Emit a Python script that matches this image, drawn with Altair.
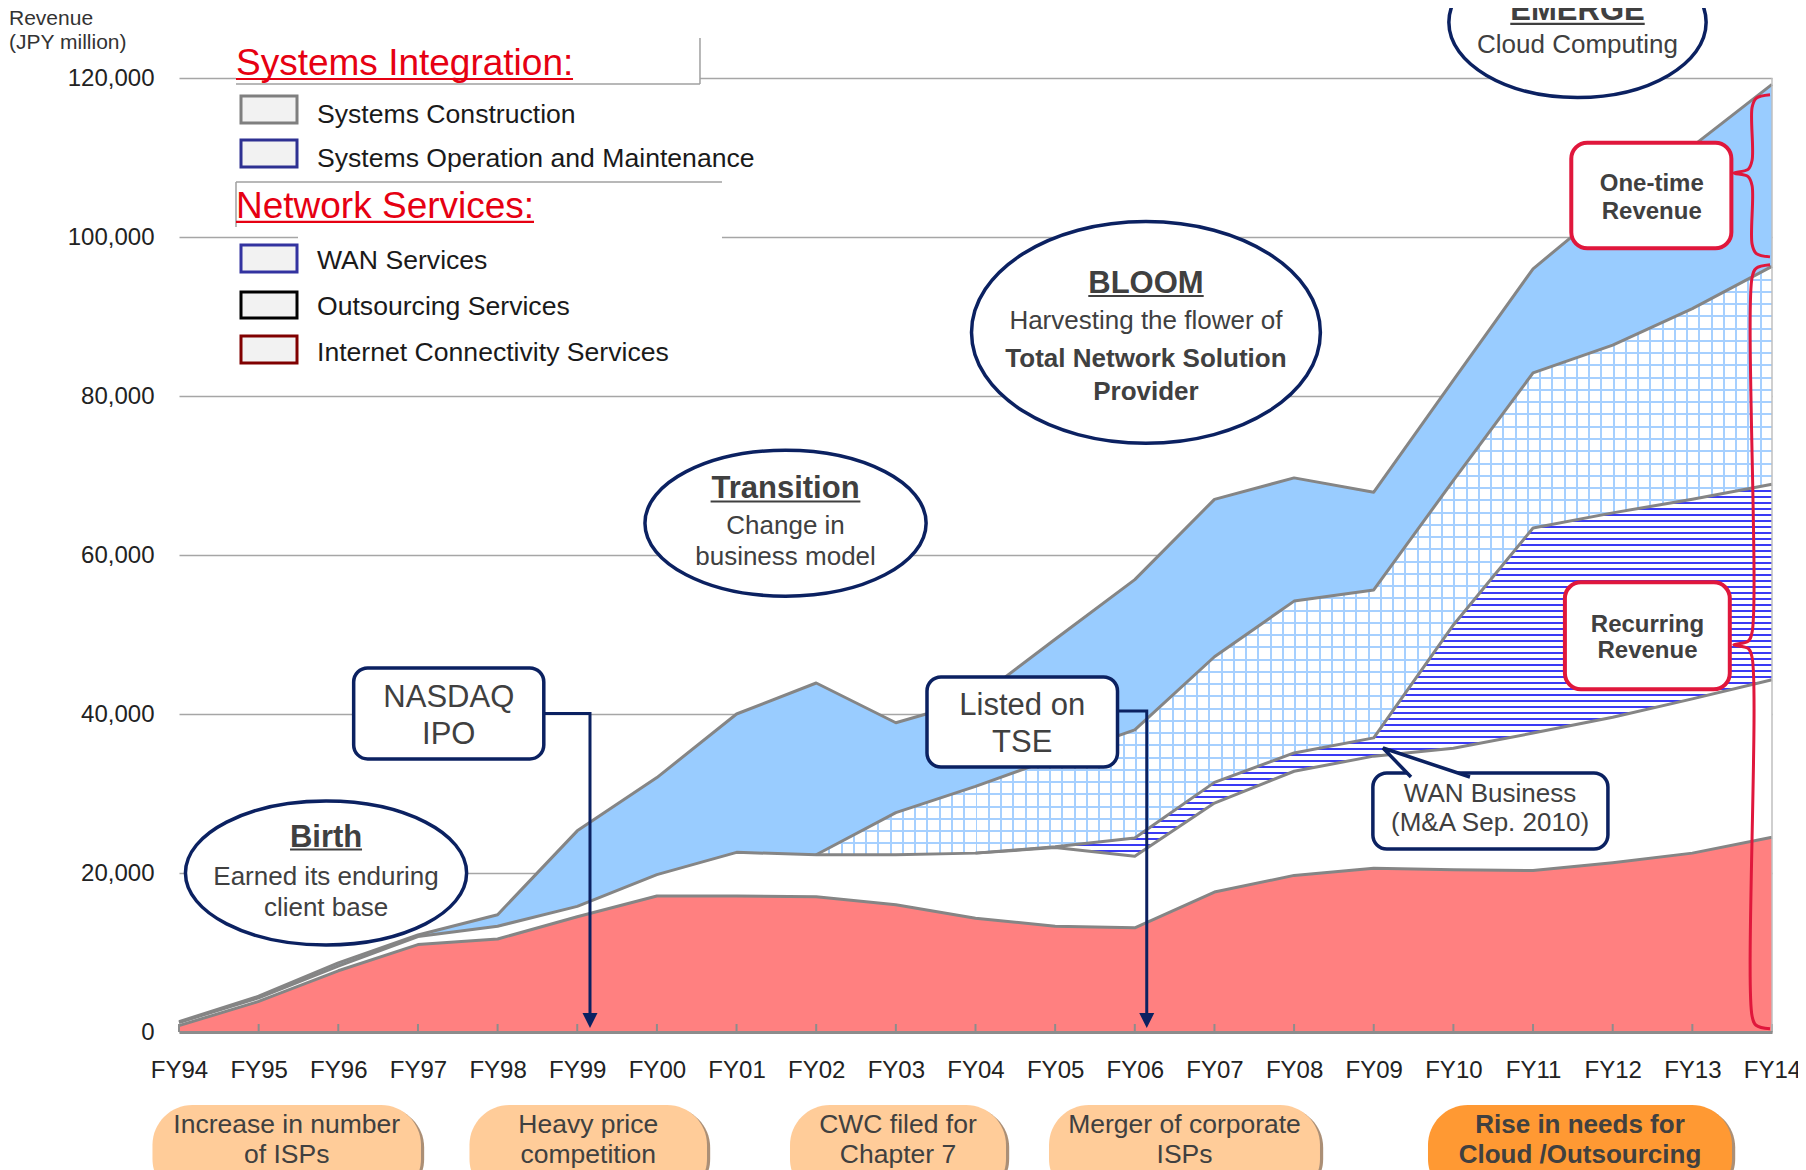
import altair as alt
import pandas as pd

FONT = "Liberation Sans"
NAVY = "#0B2161"
CRIMSON = "#E0173C"
TXT = "#404040"

# ---------------- data (Revenue, JPY million) ----------------
FY = ["FY94", "FY95", "FY96", "FY97", "FY98", "FY99", "FY00", "FY01", "FY02", "FY03", "FY04",
      "FY05", "FY06", "FY07", "FY08", "FY09", "FY10", "FY11", "FY12", "FY13", "FY14"]
internet_connectivity = [800, 3850, 7700, 11000, 11700, 14500, 17100, 17100, 17000, 16000, 14300,
                         13300, 13100, 17600, 19700, 20600, 20400, 20300, 21300, 22500, 24500]
outsourcing_services = [400, 450, 600, 1000, 1600, 1300, 2700, 5500, 5300, 6300, 8200,
                        9900, 9000, 11200, 13100, 14100, 15300, 17300, 18300, 19400, 19800]
wan_services = [0, 0, 0, 0, 0, 0, 0, 0, 0, 0, 0,
                100, 2300, 2600, 2300, 2300, 15500, 25800, 25700, 25100, 24600]
systems_om = [0, 0, 0, 0, 0, 0, 0, 0, 0, 5300, 8400,
              11200, 13600, 15800, 19100, 18600, 18200, 19500, 21100, 24000, 27400]
systems_construction = [100, 200, 400, 200, 1450, 9500, 12200, 17400, 21600, 11300, 10900,
                        14900, 18900, 19800, 15500, 12300, 12600, 13100, 17900, 20400, 22900]
Y_TICKS = [0, 20000, 40000, 60000, 80000, 100000, 120000]

W, H = 1593, 954
YMAX = 120000
PX = H / YMAX               # pixels per JPY million
XPX = W / (len(FY) - 1)     # pixels per fiscal year

df = pd.DataFrame({"i": list(range(len(FY))), "fy": FY, "ic": internet_connectivity,
                   "os": outsourcing_services, "wan": wan_services, "som": systems_om,
                   "sc": systems_construction})
df["b0"] = 0
df["b1"] = df["ic"]
df["b2"] = df["b1"] + df["os"]
df["b3"] = df["b2"] + df["wan"]
df["b4"] = df["b3"] + df["som"]
df["b5"] = df["b4"] + df["sc"]
df["tk"] = 8 / PX


def first_start(series):
    for k, v in enumerate(series):
        if v > 0:
            return max(k - 1, 0)
    return 0


wan_start = first_start(wan_services)
som_start = first_start(systems_om)

# ---------------- scales / axes ----------------
label_expr = "[" + ",".join(f"'{f}'" for f in FY) + "][datum.value]"
xs = alt.Scale(domain=[0, len(FY) - 1], nice=False, zero=False)
ys = alt.Scale(domain=[0, YMAX], nice=False, zero=False)
xaxis = alt.Axis(values=list(range(len(FY))), labelExpr=label_expr, grid=False, ticks=False,
                 tickSize=0, domain=True, domainColor="#8C8C8C", domainWidth=3,
                 labelFont=FONT, labelFontSize=24, labelColor="#222222", labelPadding=45,
                 labelBaseline="alphabetic", labelFlush=False, labelOverlap=False, zindex=1,
                 title=None)
yaxis = alt.Axis(values=Y_TICKS, format=",d", grid=True, gridColor="#A6A6A6", gridWidth=1.6,
                 ticks=False, tickSize=0, domain=False, labelFont=FONT, labelFontSize=24,
                 labelColor="#222222", labelPadding=25, labelFlush=False, labelOverlap=False,
                 title=None)


def X(f):
    return alt.X(f"{f}:Q", scale=xs, axis=xaxis, title=None)


def Y(f):
    return alt.Y(f"{f}:Q", scale=ys, axis=yaxis, title=None)


def stripes(n, frac, color, bg, horizontal_lines):
    stops = []
    for k in range(n):
        a = round(k / n, 6)
        b = round((k + frac) / n, 6)
        c = round((k + 1) / n, 6)
        stops += [{"offset": a, "color": color}, {"offset": b, "color": color},
                  {"offset": b, "color": bg}, {"offset": c, "color": bg}]
    g = {"gradient": "linear", "stops": stops}
    if horizontal_lines:
        g.update(x1=0, y1=0, x2=0, y2=1)
    else:
        g.update(x1=0, y1=0, x2=1, y2=0)
    return g


# WAN stripes (horizontal blue lines)
wan_rows = df[df.i >= wan_start]
wan_hpx = (wan_rows.b3.max() - wan_rows.b2.min()) * PX
wan_n = max(1, round(wan_hpx / 6.0))
wan_fill = stripes(wan_n, 2.0 / (wan_hpx / wan_n), "#3A3AF4", "#FFFFFF", True)

# Systems O&M grid (light blue grid)
som_rows = df[df.i >= som_start]
som_wpx = (som_rows.i.max() - som_rows.i.min()) * XPX
som_hpx = (som_rows.b4.max() - som_rows.b3.min()) * PX
gy = max(1, round(som_hpx / 12.3))
gx = max(1, round(som_wpx / 12.3))
grid_h = stripes(gy, 2.0 / (som_hpx / gy), "#A6D0FF", "#FFFFFF", True)
grid_v = stripes(gx, 2.0 / (som_wpx / gx), "#A6D0FF", "rgba(255,255,255,0)", False)

layers = []
base = alt.Chart(df)
wan_base = alt.Chart(df).transform_filter(f"datum.i >= {wan_start}")
som_base = alt.Chart(df).transform_filter(f"datum.i >= {som_start}")

layers += [
    base.mark_area(color="#FF8080", opacity=1).encode(x=X("i"), y=Y("b1"), y2=alt.Y2("b0:Q")),
    base.mark_area(color="#FFFFFF", opacity=1).encode(x=X("i"), y=Y("b2"), y2=alt.Y2("b1:Q")),
    base.mark_area(color="#99CCFF", opacity=1).encode(x=X("i"), y=Y("b5"), y2=alt.Y2("b4:Q")),
    som_base.mark_area(fill=grid_h, opacity=1).encode(x=X("i"), y=Y("b4"), y2=alt.Y2("b3:Q")),
    som_base.mark_area(fill=grid_v, opacity=1).encode(x=X("i"), y=Y("b4"), y2=alt.Y2("b3:Q")),
    wan_base.mark_area(fill=wan_fill, opacity=1).encode(x=X("i"), y=Y("b3"), y2=alt.Y2("b2:Q")),
]
for col, start in [("b1", 0), ("b2", 0), ("b3", wan_start), ("b4", som_start), ("b5", 0)]:
    layers.append(alt.Chart(df).transform_filter(f"datum.i >= {start}")
                  .mark_line(color="#858585", strokeWidth=3, strokeJoin="round")
                  .encode(x=X("i"), y=Y(col)))

# inward x ticks and right frame line
layers.append(base.mark_rule(color="#8C8C8C", strokeWidth=2)
              .encode(x=X("i"), y=Y("b0"), y2=alt.Y2("tk:Q")))
layers.append(alt.Chart(pd.DataFrame({"x": [len(FY) - 1], "y": [0], "y2": [YMAX]}))
              .mark_rule(color="#BFBFBF", strokeWidth=1.5)
              .encode(x=X("x"), y=Y("y"), y2=alt.Y2("y2:Q")))


# ---------------- helpers ----------------
def rects(rows, **mark):
    d = pd.DataFrame(rows, columns=["x", "x2", "y", "y2"])
    return alt.Chart(d).mark_rect(**mark).encode(x=X("x"), x2=alt.X2("x2:Q"),
                                                 y=Y("y"), y2=alt.Y2("y2:Q"))


def segs(rows, color, width):
    d = pd.DataFrame(rows, columns=["x", "x2", "y", "y2"])
    return alt.Chart(d).mark_rule(color=color, strokeWidth=width).encode(
        x=X("x"), x2=alt.X2("x2:Q"), y=Y("y"), y2=alt.Y2("y2:Q"))


def texts(rows, size, bold=False, color=TXT, align="center"):
    d = pd.DataFrame(rows, columns=["x", "y", "t"])
    return alt.Chart(d).mark_text(font=FONT, fontSize=size,
                                  fontWeight="bold" if bold else "normal", color=color,
                                  align=align, baseline="alphabetic").encode(
        x=X("x"), y=Y("y"), text="t:N")


def polyline(points, interpolate="linear", **mark):
    d = pd.DataFrame(points, columns=["x", "y"])
    d["o"] = range(len(d))
    return alt.Chart(d).mark_line(interpolate=interpolate, **mark).encode(
        x=X("x"), y=Y("y"), order="o:Q")


def symbol(x, y, path, size, **mark):
    d = pd.DataFrame({"x": [x], "y": [y]})
    return alt.Chart(d).mark_point(shape=path, size=size, filled=True, opacity=1, **mark).encode(
        x=X("x"), y=Y("y"))


def ellipse_path(r):
    k = 0.5523
    return (f"M -1 0 C -1 {-k*r:.4f} {-k:.4f} {-r:.4f} 0 {-r:.4f} "
            f"C {k:.4f} {-r:.4f} 1 {-k*r:.4f} 1 0 "
            f"C 1 {k*r:.4f} {k:.4f} {r:.4f} 0 {r:.4f} "
            f"C {-k:.4f} {r:.4f} -1 {k*r:.4f} -1 0 Z")


# ---------------- legend ----------------
layers.append(rects([(0.7156, 6.541, 119249, 125035), (0.7156, 6.817, 101261, 106922),
                     (1.494, 6.817, 82644, 106922)], color="white", opacity=1))
layers.append(segs([(0.7156, 6.541, 119249, 119249), (6.541, 6.541, 119249, 125035),
                    (0.7156, 6.817, 106922, 106922), (0.7156, 0.7156, 101261, 106922)],
                   "#A0A0A0", 1.5))
LEGEND_NAMES = ["Systems Construction", "Systems Operation and Maintenance", "WAN Services",
                "Outsourcing Services", "Internet Connectivity Services"]
LEGEND_STROKES = ["#7F7F7F", "#2E3192", "#3333A0", "#000000", "#800000"]
LEGEND_Y = [(114343, 117739), (108808, 112205), (95600, 98997), (89814, 93085), (84154, 87550)]
LEGEND_TEXT_Y = [114381, 108846, 95978, 90192, 84443]
leg = pd.DataFrame({"x": 0.7784, "x2": 1.4815, "y": [a for a, b in LEGEND_Y],
                    "y2": [b for a, b in LEGEND_Y], "s": LEGEND_STROKES})
layers.append(alt.Chart(leg).mark_rect(fill="#F2F2F2", strokeWidth=3, opacity=1).encode(
    x=X("x"), x2=alt.X2("x2:Q"), y=Y("y"), y2=alt.Y2("y2:Q"),
    stroke=alt.Stroke("s:N", scale=None)))
layers.append(texts([(1.7326, y, t) for y, t in zip(LEGEND_TEXT_Y, LEGEND_NAMES)], 26.6,
                    color="#1A1A1A", align="left"))
layers.append(texts([(0.7156, 120381, "Systems Integration:"),
                     (0.7156, 102393, "Network Services:")], 37, color="#E60012", align="left"))
layers.append(segs([(0.7156, 4.947, 119877, 119877), (0.7156, 4.457, 101890, 101890)],
                   "#E60012", 2.2))
layers.append(texts([(-2.134, 126670, "Revenue"), (-2.134, 123617, "(JPY million)")], 21,
                    color="#333333", align="left"))

# ---------------- arrows ----------------
ARROWS = [[(4.58, 40064), (5.16, 40064), (5.16, 2300)],
          [(11.783, 40379), (12.15, 40379), (12.15, 2300)]]
for pts in ARROWS:
    layers.append(polyline(pts, color=NAVY, strokeWidth=3))
    layers.append(symbol(pts[-1][0], 1447, "M -1 -1 L 1 -1 L 0 1 Z", 225, color=NAVY,
                         strokeWidth=0))

# ---------------- ellipses ----------------
ELLIPSES = [(1.846, 20000, 3.53, 18100), (7.615, 64000, 3.53, 18350),
            (12.14, 88000, 4.38, 27900), (17.558, 127000, 3.23, 18900)]
for cx, cy, wy, hy in ELLIPSES:
    wpx = wy * XPX
    hpx = hy * PX
    layers.append(symbol(cx, cy, ellipse_path(hpx / wpx), wpx * wpx, color="white",
                         stroke=NAVY, strokeWidth=3.5))

# ---------------- rounded boxes ----------------
layers.append(rects([(2.193, 4.58, 34341, 45788), (9.391, 11.783, 33334, 44656),
                     (14.989, 17.94, 23020, 32580)],
                    fill="white", stroke=NAVY, strokeWidth=3.5, cornerRadius=14, opacity=1))
layers.append(symbol(15.662, 33900, "M -0.356 0.333 L -1 -0.333 L 1 0.333", 7569,
                     color="white", stroke=NAVY, strokeWidth=3.5))
layers.append(rects([(17.48, 19.49, 98581, 111866), (17.40, 19.47, 43108, 56568)],
                    fill="white", stroke=CRIMSON, strokeWidth=4, cornerRadius=16, opacity=1))

# ---------------- annotation texts ----------------
layers.append(texts([(1.846, 23271, "Birth"), (7.615, 67135, "Transition"),
                     (12.14, 92959, "BLOOM"), (17.558, 127303, "EMERGE")], 31, bold=True))
layers.append(segs([(1.394, 2.298, 22957, 22957), (6.674, 8.555, 66732, 66732),
                    (11.416, 12.865, 92581, 92581), (16.714, 18.402, 126796, 126796)], TXT, 2.2))
layers.append(texts([(1.846, 18491, "Earned its enduring"), (1.846, 14592, "client base"),
                     (7.615, 62606, "Change in"), (7.615, 58744, "business model"),
                     (12.14, 88430, "Harvesting the flower of"),
                     (17.558, 123189, "Cloud Computing"),
                     (16.46, 28970, "WAN Business"), (16.46, 25284, "(M&A Sep. 2010)")], 26))
layers.append(texts([(12.14, 83588, "Total Network Solution"), (12.14, 79499, "Provider")],
                    26, bold=True))
layers.append(texts([(3.387, 40882, "NASDAQ"), (3.387, 36228, "IPO"),
                     (10.587, 39875, "Listed on"), (10.587, 35184, "TSE")], 31))
layers.append(texts([(18.49, 105828, "One-time"), (18.49, 102267, "Revenue"),
                     (18.437, 50355, "Recurring"), (18.437, 47007, "Revenue")], 24, bold=True))


# ---------------- braces ----------------
def brace(y_top, y_mid, y_bot):
    tip, spine, nub = 19.975, 19.75, 19.52
    c, e = 1600, 450
    return [(tip, y_top), (spine + 0.05, y_top - e), (spine, y_top - c), (spine, y_mid + c),
            (spine - 0.05, y_mid + e), (nub, y_mid), (spine - 0.05, y_mid - e),
            (spine, y_mid - c), (spine, y_bot + c), (spine + 0.05, y_bot + e), (tip, y_bot)]


layers.append(polyline(brace(117900, 108050, 97500), "catmull-rom", color=CRIMSON,
                       strokeWidth=3))
layers.append(polyline(brace(96500, 48700, 400), "catmull-rom", color=CRIMSON, strokeWidth=3))

# ---------------- bottom pills ----------------
PILLS = [(-0.333, 3.038, "Increase in number", "of ISPs"),
         (3.647, 6.629, "Heavy price", "competition"),
         (7.671, 10.383, "CWC filed for", "Chapter 7"),
         (10.923, 14.325, "Merger of corporate", "ISPs"),
         (15.681, 19.498, "Rise in needs for", "Cloud /Outsourcing")]
PILL_TOP, PILL_BOT = -9183, -21000
layers.append(rects([(a + 0.04, b + 0.04, PILL_TOP - 300, PILL_BOT) for a, b, _, _ in PILLS],
                    fill="#9C7B5E", cornerRadius=40, opacity=0.85))
layers.append(rects([(a, b, PILL_TOP, PILL_BOT) for a, b, _, _ in PILLS[:4]],
                    fill="#FFCC99", cornerRadius=40, opacity=1))
layers.append(rects([(a, b, PILL_TOP, PILL_BOT) for a, b, _, _ in PILLS[4:]],
                    fill="#FF9933", cornerRadius=40, opacity=1))
reg_rows, bold_rows = [], []
for k, (a, b, t1, t2) in enumerate(PILLS):
    tgt = bold_rows if k == 4 else reg_rows
    tgt += [((a + b) / 2, -12705, t1), ((a + b) / 2, -16480, t2)]
layers.append(texts(reg_rows, 26.5))
layers.append(texts(bold_rows, 26, bold=True))

chart = alt.layer(*layers).properties(
    width=W, height=H,
    autosize=alt.AutoSizeParams(type="none"),
    padding={"left": 171, "top": 70, "right": 26, "bottom": 138},
    background="white",
).configure_view(stroke=None)

chart.save("out.html", embed_options={"renderer": "svg", "actions": False})
